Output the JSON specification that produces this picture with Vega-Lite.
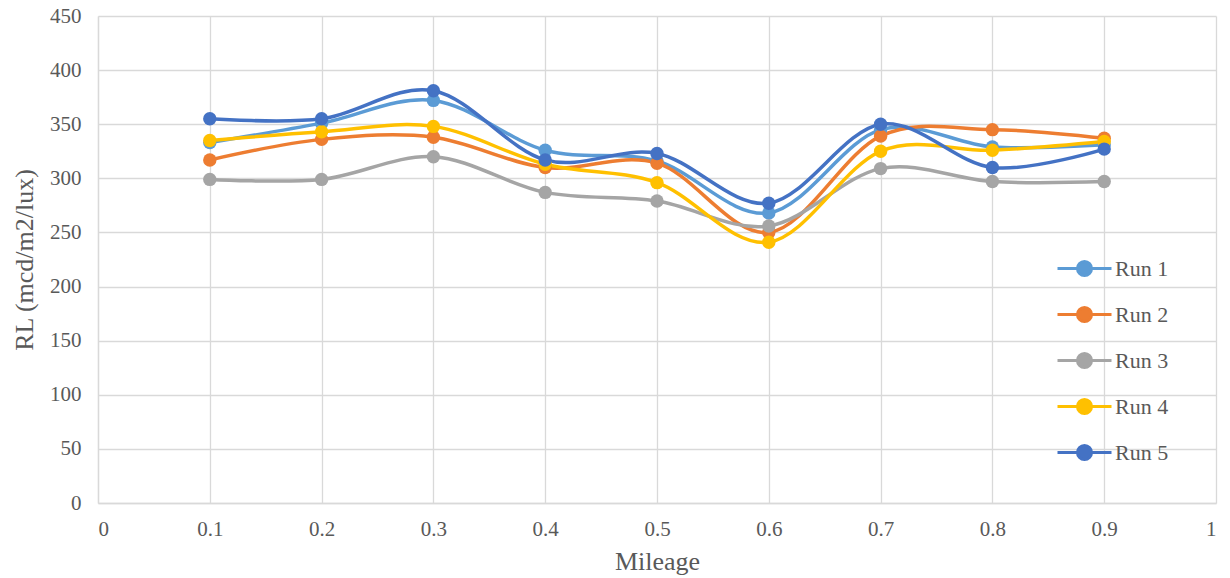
{
  "$schema": "https://vega.github.io/schema/vega-lite/v6.json",
  "autosize": {"type": "none"},
  "width": 1118,
  "height": 487,
  "padding": {"left": 98, "top": 16, "right": 14, "bottom": 75},
  "background": "white",
  "config": {
    "font": "Liberation Serif",
    "view": {"stroke": null},
    "axis": {
      "labelFont": "Liberation Serif",
      "titleFont": "Liberation Serif",
      "labelFontSize": 21,
      "titleFontSize": 26,
      "labelColor": "#595959",
      "titleColor": "#595959",
      "titleFontWeight": "normal",
      "gridColor": "#D9D9D9",
      "gridWidth": 1.3,
      "domainColor": "#D9D9D9",
      "domainWidth": 1.3,
      "ticks": false
    }
  },
  "data": {
    "values": [
      {"mileage": 0.1, "run": "Run 1", "rl": 333},
      {"mileage": 0.2, "run": "Run 1", "rl": 351},
      {"mileage": 0.3, "run": "Run 1", "rl": 372},
      {"mileage": 0.4, "run": "Run 1", "rl": 326},
      {"mileage": 0.5, "run": "Run 1", "rl": 316},
      {"mileage": 0.6, "run": "Run 1", "rl": 268},
      {"mileage": 0.7, "run": "Run 1", "rl": 345},
      {"mileage": 0.8, "run": "Run 1", "rl": 329},
      {"mileage": 0.9, "run": "Run 1", "rl": 331},
      {"mileage": 0.1, "run": "Run 2", "rl": 317},
      {"mileage": 0.2, "run": "Run 2", "rl": 336},
      {"mileage": 0.3, "run": "Run 2", "rl": 338},
      {"mileage": 0.4, "run": "Run 2", "rl": 310},
      {"mileage": 0.5, "run": "Run 2", "rl": 314},
      {"mileage": 0.6, "run": "Run 2", "rl": 250},
      {"mileage": 0.7, "run": "Run 2", "rl": 339},
      {"mileage": 0.8, "run": "Run 2", "rl": 345},
      {"mileage": 0.9, "run": "Run 2", "rl": 337},
      {"mileage": 0.1, "run": "Run 3", "rl": 299},
      {"mileage": 0.2, "run": "Run 3", "rl": 299},
      {"mileage": 0.3, "run": "Run 3", "rl": 320},
      {"mileage": 0.4, "run": "Run 3", "rl": 287},
      {"mileage": 0.5, "run": "Run 3", "rl": 279},
      {"mileage": 0.6, "run": "Run 3", "rl": 256},
      {"mileage": 0.7, "run": "Run 3", "rl": 309},
      {"mileage": 0.8, "run": "Run 3", "rl": 297},
      {"mileage": 0.9, "run": "Run 3", "rl": 297},
      {"mileage": 0.1, "run": "Run 4", "rl": 335},
      {"mileage": 0.2, "run": "Run 4", "rl": 343},
      {"mileage": 0.3, "run": "Run 4", "rl": 348},
      {"mileage": 0.4, "run": "Run 4", "rl": 313},
      {"mileage": 0.5, "run": "Run 4", "rl": 296},
      {"mileage": 0.6, "run": "Run 4", "rl": 241},
      {"mileage": 0.7, "run": "Run 4", "rl": 325},
      {"mileage": 0.8, "run": "Run 4", "rl": 326},
      {"mileage": 0.9, "run": "Run 4", "rl": 334},
      {"mileage": 0.1, "run": "Run 5", "rl": 355},
      {"mileage": 0.2, "run": "Run 5", "rl": 355},
      {"mileage": 0.3, "run": "Run 5", "rl": 381},
      {"mileage": 0.4, "run": "Run 5", "rl": 317},
      {"mileage": 0.5, "run": "Run 5", "rl": 323},
      {"mileage": 0.6, "run": "Run 5", "rl": 277},
      {"mileage": 0.7, "run": "Run 5", "rl": 350},
      {"mileage": 0.8, "run": "Run 5", "rl": 310},
      {"mileage": 0.9, "run": "Run 5", "rl": 327}
    ]
  },
  "encoding": {
    "x": {
      "field": "mileage",
      "type": "quantitative",
      "title": "Mileage",
      "scale": {"domain": [0, 1], "nice": false},
      "axis": {"values": [0, 0.1, 0.2, 0.3, 0.4, 0.5, 0.6, 0.7, 0.8, 0.9, 1], "format": ".1~f", "labelPadding": 15, "titlePadding": 9}
    },
    "y": {
      "field": "rl",
      "type": "quantitative",
      "title": "RL (mcd/m2/lux)",
      "scale": {"domain": [0, 450], "nice": false},
      "axis": {"values": [0, 50, 100, 150, 200, 250, 300, 350, 400, 450], "labelPadding": 17, "titlePadding": 12}
    },
    "color": {
      "field": "run",
      "type": "nominal",
      "scale": {
        "domain": ["Run 1", "Run 2", "Run 3", "Run 4", "Run 5"],
        "range": ["#5B9BD5", "#ED7D31", "#A5A5A5", "#FFC000", "#4472C4"]
      },
      "legend": {
        "title": null,
        "orient": "none",
        "legendX": 970,
        "legendY": 236,
        "symbolType": "M-1.8,0L1.8,0M0.47,0A0.47,0.47 0 1 1 -0.47,0A0.47,0.47 0 1 1 0.47,0",
        "symbolSize": 900,
        "symbolStrokeWidth": 3,
        "labelFont": "Liberation Serif",
        "labelFontSize": 22,
        "labelColor": "#595959",
        "rowPadding": 16,
        "labelOffset": 14
      }
    }
  },
  "layer": [
    {
      "mark": {"type": "line", "interpolate": "cardinal", "strokeWidth": 3.5}
    },
    {
      "mark": {"type": "point", "filled": true, "opacity": 1, "size": 180}
    }
  ]
}
